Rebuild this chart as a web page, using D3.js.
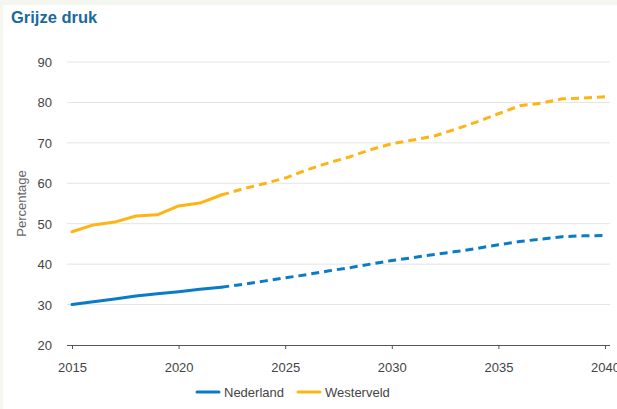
<!DOCTYPE html>
<html>
<head>
<meta charset="utf-8">
<script src="https://cdn.jsdelivr.net/npm/d3@7"></script>
<style>
  html, body { margin: 0; padding: 0; background: #f4f7f0; }
  svg { display: block; }
</style>
</head>
<body>
<svg id="chart" width="617" height="409"></svg>
<script>
// Grey pressure (65+ per 20–64) — observed up to 2022, forecast afterwards
const years = d3.range(2015, 2041);
const nederland = [30.0, 30.7, 31.4, 32.1, 32.7, 33.2, 33.8, 34.3, 35.0, 35.8,
                   36.6, 37.4, 38.3, 39.1, 40.0, 40.9, 41.6, 42.4, 43.1, 43.9,
                   44.8, 45.6, 46.2, 46.8, 47.0, 47.1];
const westerveld = [48.0, 49.7, 50.4, 51.9, 52.2, 54.4, 55.1, 57.1, 58.6, 59.9,
                    61.3, 63.3, 65.0, 66.5, 68.3, 69.8, 70.7, 71.7, 73.4, 75.2,
                    77.2, 79.2, 79.8, 80.9, 81.1, 81.4];
const lastObservedYear = 2022;
const xTicks = [2015, 2020, 2025, 2030, 2035, 2040];
const yTicks = [20, 30, 40, 50, 60, 70, 80, 90];
const seriesNames = ["Nederland", "Westerveld"];
const seriesColors = ["#0a7cc6", "#fdb515"];

const svg = d3.select("#chart");
const W = 617, H = 409;
const font = "'Liberation Sans', Arial, sans-serif";

// white card
svg.append("rect").attr("x", 3).attr("y", 5).attr("width", W - 3).attr("height", H - 5).attr("fill", "#fff");

svg.append("text")
  .attr("x", 11).attr("y", 23)
  .attr("font-family", font).attr("font-weight", "bold").attr("font-size", 16.5)
  .attr("fill", "#1b6a9c")
  .text("Grijze druk");

const x = d3.scaleLinear().domain([2015, 2040]).range([72, 605]);
const y = d3.scaleLinear().domain([20, 90]).range([345, 62]);

// horizontal gridlines
svg.append("g").selectAll("line").data(yTicks.filter(t => t > 20)).join("line")
  .attr("x1", 67).attr("x2", 610)
  .attr("y1", d => y(d)).attr("y2", d => y(d))
  .attr("stroke", "#e4e4e4").attr("stroke-width", 1);

// y axis labels
const yAxis = d3.axisLeft(y).tickValues(yTicks).tickSize(0).tickPadding(0);
const yg = svg.append("g").attr("transform", "translate(52,0)").call(yAxis);
yg.select(".domain").remove();
yg.selectAll("text").attr("font-family", font).attr("font-size", 13).attr("fill", "#444").attr("dy", "0.35em");

svg.append("text")
  .attr("transform", `translate(26,${(y(20) + y(90)) / 2}) rotate(-90)`)
  .attr("text-anchor", "middle")
  .attr("font-family", font).attr("font-size", 13).attr("fill", "#666")
  .text("Percentage");

// x axis
const xAxis = d3.axisBottom(x).tickValues(xTicks).tickFormat(d3.format("d")).tickSize(4).tickSizeOuter(0).tickPadding(14);
const xg = svg.append("g").attr("transform", `translate(0,${y(20)})`).call(xAxis);
xg.select(".domain").attr("d", `M67,0.5H610`).attr("stroke", "#555");
xg.selectAll(".tick line").attr("stroke", "#555");
xg.selectAll("text").attr("font-family", font).attr("font-size", 13).attr("fill", "#444");

// series lines: solid for observed, dashed for forecast
const line = d3.line().x(d => x(d[0])).y(d => y(d[1])).curve(d3.curveLinear);
[nederland, westerveld].forEach((vals, i) => {
  const pts = years.map((yr, j) => [yr, vals[j]]);
  const observed = pts.filter(p => p[0] <= lastObservedYear);
  const forecast = pts.filter(p => p[0] >= lastObservedYear);
  svg.append("path").attr("d", line(observed))
    .attr("fill", "none").attr("stroke", seriesColors[i]).attr("stroke-width", 3)
    .attr("stroke-linejoin", "round").attr("stroke-linecap", "round");
  svg.append("path").attr("d", line(forecast))
    .attr("fill", "none").attr("stroke", seriesColors[i]).attr("stroke-width", 3)
    .attr("stroke-dasharray", "8,5").attr("stroke-linejoin", "round");
});

// legend
const legendX = [197, 298];
const lg = svg.append("g");
seriesNames.forEach((name, i) => {
  lg.append("line")
    .attr("x1", legendX[i]).attr("x2", legendX[i] + 22)
    .attr("y1", 392).attr("y2", 392)
    .attr("stroke", seriesColors[i]).attr("stroke-width", 3).attr("stroke-linecap", "round");
  lg.append("text")
    .attr("x", legendX[i] + 27).attr("y", 392).attr("dy", "0.35em")
    .attr("font-family", font).attr("font-size", 13).attr("fill", "#444")
    .text(name);
});
</script>
</body>
</html>
